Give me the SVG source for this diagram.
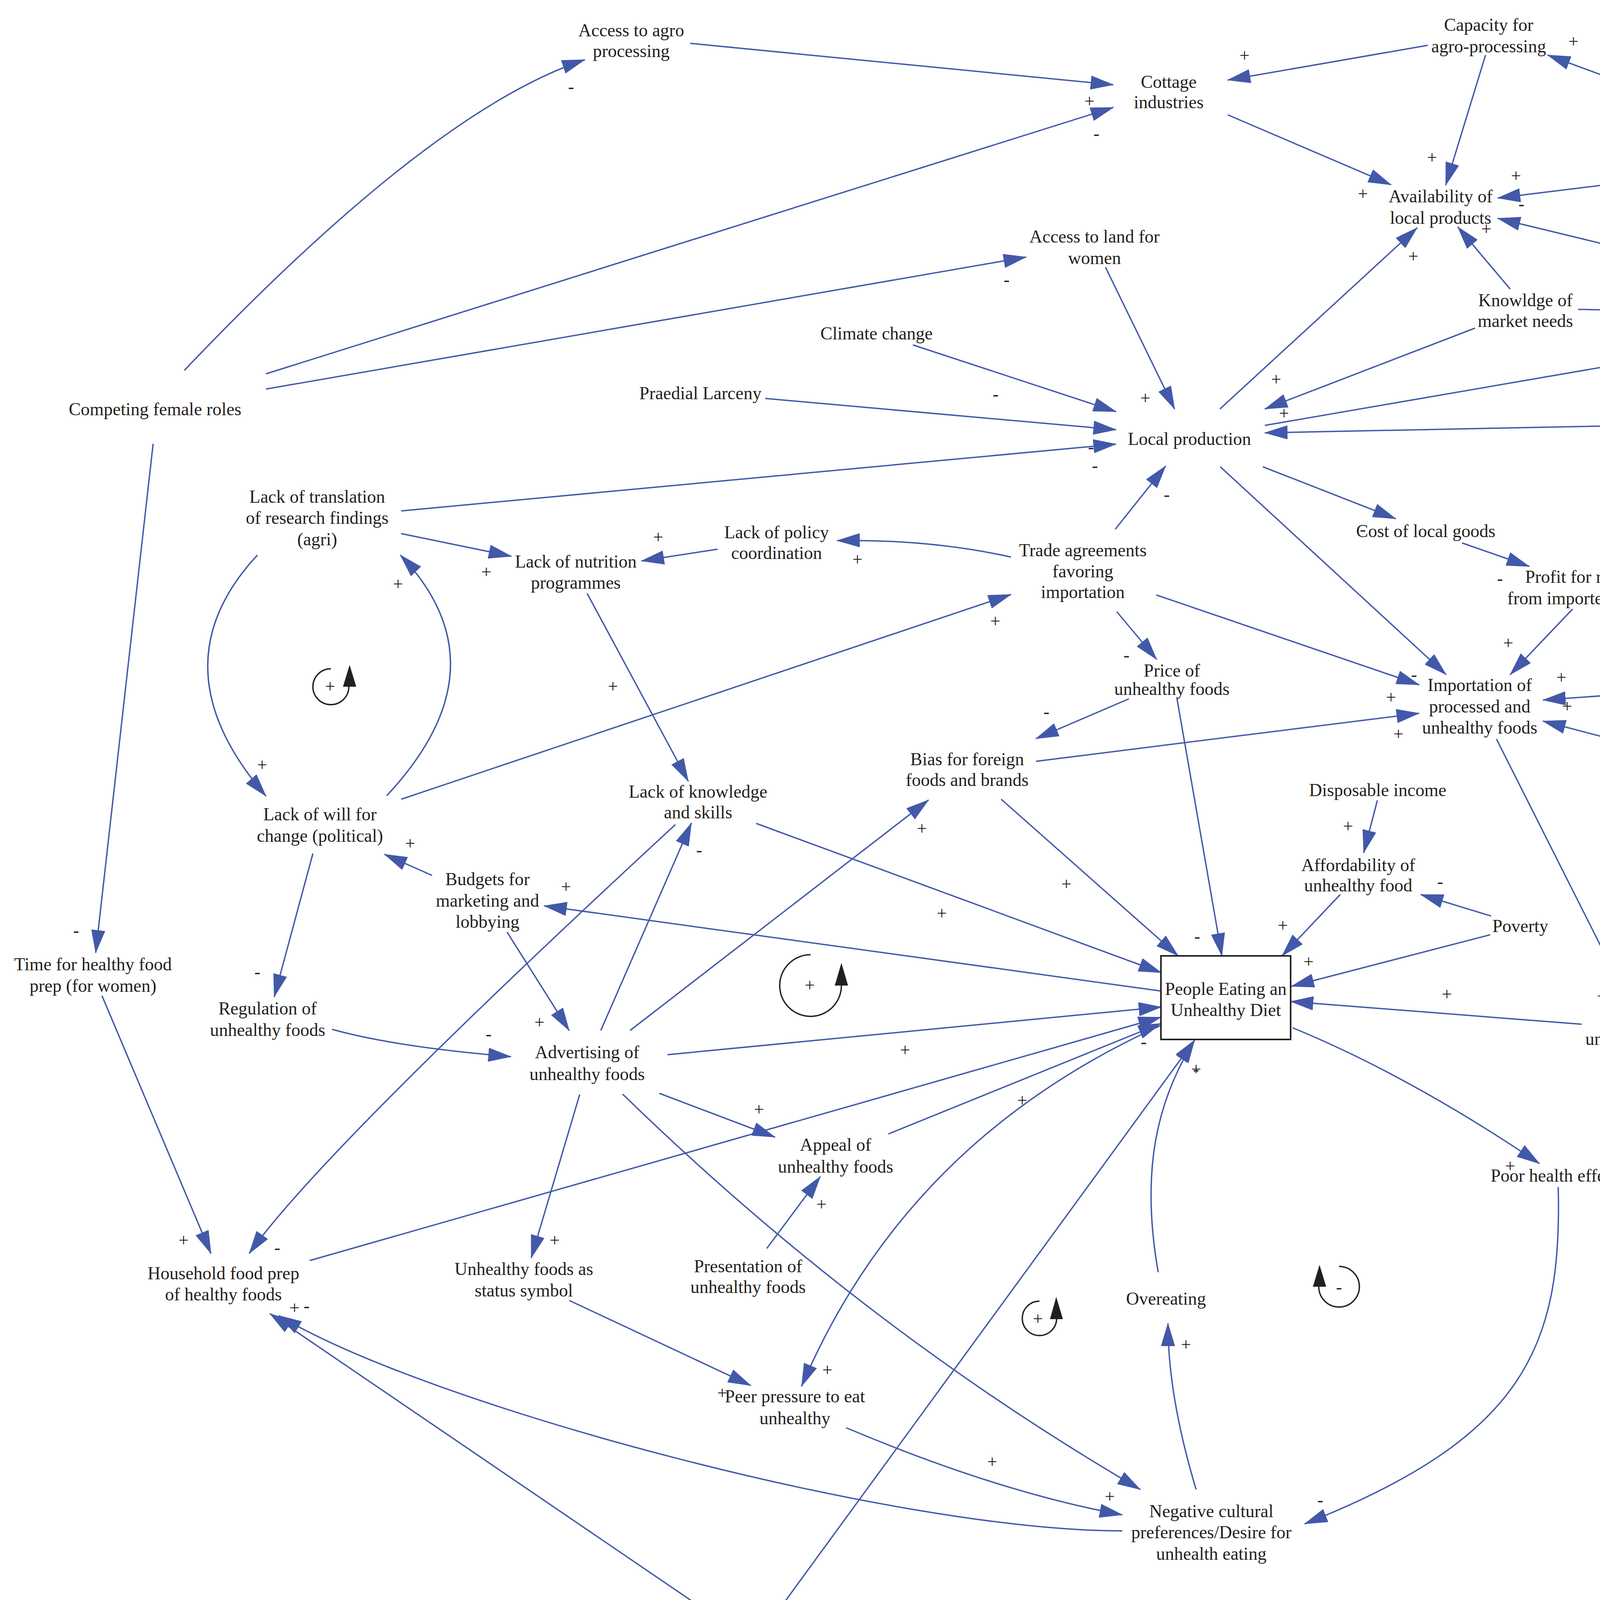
<svg xmlns="http://www.w3.org/2000/svg" width="5457" height="4353" viewBox="0 0 5457 4353">
<style>
.t{font-family:"Liberation Serif","Times New Roman",serif;font-size:46px;fill:#231f20;text-anchor:middle}
.s{font-family:"Liberation Serif","Times New Roman",serif;font-size:46px;fill:#231f20;text-anchor:middle}
.e{fill:none;stroke:#4259a9;stroke-width:3.5;marker-end:url(#ah)}
.n{fill:none;stroke:#4259a9;stroke-width:3.5}
.lp{fill:none;stroke:#231f20;stroke-width:3.5}
.la{fill:#231f20}
</style>
<defs>
<marker id="ah" viewBox="0 0 60 36" refX="58" refY="18" markerWidth="60" markerHeight="36" markerUnits="userSpaceOnUse" orient="auto"><path d="M0,0 L60,18 L0,36 z" fill="#4259a9"/></marker>
<clipPath id="bottomclip"><rect x="0" y="0" width="5457" height="4292"/></clipPath>
</defs>
<rect width="5457" height="4353" fill="#ffffff"/>
<g id="connectors">
<path class="e" d="M472,948 Q1106,282 1497,153"/>
<path class="e" d="M681,957 L2850,275"/>
<path class="e" d="M681,996 L2627,658"/>
<path class="e" d="M392,1136 L245,2439"/>
<path class="e" d="M1767,111 L2850,217"/>
<path class="e" d="M3655,116 L3143,205"/>
<path class="e" d="M3143,294 L3561,473"/>
<path class="e" d="M3803,141 L3701,474"/>
<path class="e" d="M4591,373 L3962,141"/>
<path class="e" d="M4508,424 L3834,507"/>
<path class="e" d="M4684,435 L4815,705"/>
<path class="e" d="M4656,758 L3834,559"/>
<path class="e" d="M3866,740 L3732,581"/>
<path class="e" d="M4040,792 L4658,803"/>
<path class="e" d="M3776,840 L3238,1047"/>
<path class="e" d="M3238,1089 L4658,844"/>
<path class="e" d="M4290,1087 L3238,1108"/>
<path class="e" d="M4726,1385 L4537,1137"/>
<path class="e" d="M4888,2037 L4871,915"/>
<g clip-path="url(#bottomclip)"><path class="n" d="M4949,915 A2274,2274 0 0 1 4183,4290 L4200,4330"/><path class="n" d="M2070,4287 L2110,4290"/></g>
<path class="e" d="M2830,684 L3007,1047"/>
<path class="e" d="M2337,883 L2857,1054"/>
<path class="e" d="M1959,1020 L2857,1100"/>
<path class="e" d="M1027,1308 L2857,1137"/>
<path class="e" d="M2855,1355 L2984,1193"/>
<path class="e" d="M2588,1426 Q2380,1380 2143,1384"/>
<path class="e" d="M1837,1406 L1642,1436"/>
<path class="e" d="M1027,1366 L1309,1424"/>
<path class="e" d="M659,1421 Q394,1706 681,2038"/>
<path class="e" d="M990,2037 Q1298,1707 1025,1421"/>
<path class="e" d="M1027,2046 L2588,1522"/>
<path class="e" d="M1503,1519 L1762,2000"/>
<path class="e" d="M801,2185 L702,2552"/>
<path class="e" d="M1106,2241 L984,2187"/>
<path class="e" d="M1298,2386 L1457,2638"/>
<path class="e" d="M2972,2537 L1393,2319"/>
<path class="e" d="M850,2635 Q1010,2680 1308,2705"/>
<path class="e" d="M1538,2638 L1770,2107"/>
<path class="e" d="M1729,2111 Q820,2950 638,3209"/>
<path class="e" d="M1613,2638 L2377,2048"/>
<path class="e" d="M1709,2700 L2973,2578"/>
<path class="e" d="M1688,2799 L1984,2911"/>
<path class="e" d="M1484,2802 L1360,3220"/>
<path class="e" d="M1594,2801 Q2210,3400 2919,3813"/>
<path class="e" d="M1963,3196 L2100,3012"/>
<path class="e" d="M2972,2625 Q2320,2920 2052,3549"/>
<path class="e" d="M793,3227 L2972,2604"/>
<path class="e" d="M2274,2903 L2972,2620"/>
<path class="e" d="M3013,1788 L3128,2447"/>
<path class="e" d="M2563,2046 L3016,2447"/>
<path class="e" d="M1936,2108 L2973,2490"/>
<path class="e" d="M3431,2290 L3282,2447"/>
<path class="e" d="M3815,2393 L3306,2525"/>
<path class="e" d="M3817,2345 L3637,2290"/>
<path class="e" d="M3526,2049 L3491,2183"/>
<path class="e" d="M4049,2622 L3304,2564"/>
<path class="e" d="M3309,2631 Q3610,2755 3941,2979"/>
<path class="e" d="M3831,1892 L4177,2579"/>
<path class="e" d="M4821,2551 L4368,2609"/>
<path class="e" d="M4699,3146 L4260,2686"/>
<path class="e" d="M4894,2150 L4940,2479"/>
<path class="e" d="M4687,2040 L3950,1846"/>
<path class="e" d="M4371,1762 L3950,1792"/>
<path class="e" d="M4026,1559 L3866,1727"/>
<path class="e" d="M3743,1390 L3915,1450"/>
<path class="e" d="M3233,1195 L3573,1328"/>
<path class="e" d="M3124,1195 L3702,1727"/>
<path class="e" d="M2960,1523 L3633,1753"/>
<path class="e" d="M2652,1949 L3633,1826"/>
<path class="e" d="M2859,1566 L2961,1688"/>
<path class="e" d="M2890,1789 L2652,1891"/>
<path class="e" d="M3123,1047 L3628,583"/>
<path class="e" d="M1457,3329 L1922,3547"/>
<path class="e" d="M2166,3655 Q2560,3821 2873,3878"/>
<path class="e" d="M2873,3919 C2300,3920 1100,3600 714,3368"/>
<path class="e" d="M1832,4140 L691,3363"/>
<path class="e" d="M1986,4132 L3058,2663"/>
<path class="e" d="M2965,3257 C2920,3000 2960,2820 3058,2663"/>
<path class="e" d="M3062,3813 C3010,3640 2990,3500 2990,3388"/>
<path class="e" d="M3989,3039 C4000,3450 3900,3680 3340,3901"/>
<path class="e" d="M261,2549 L540,3209"/>
</g>
<g id="polarities">
<text class="s" x="1462" y="237">-</text>
<text class="s" x="2807" y="357">-</text>
<text class="s" x="2577" y="731">-</text>
<text class="s" x="195" y="2397">-</text>
<text class="s" x="2789" y="274">+</text>
<text class="s" x="3186" y="157">+</text>
<text class="s" x="3489" y="511">+</text>
<text class="s" x="3666" y="418">+</text>
<text class="s" x="4028" y="121">+</text>
<text class="s" x="3881" y="465">+</text>
<text class="s" x="4740" y="692">-</text>
<text class="s" x="3895" y="537">-</text>
<text class="s" x="3805" y="601">+</text>
<text class="s" x="4598" y="868">-</text>
<text class="s" x="3267" y="986">+</text>
<text class="s" x="4608" y="918">+</text>
<text class="s" x="3287" y="1073">+</text>
<text class="s" x="4610" y="1163">+</text>
<text class="s" x="4920" y="980">+</text>
<text class="s" x="2139" y="4280">-</text>
<text class="s" x="2932" y="1034">+</text>
<text class="s" x="2549" y="1024">-</text>
<text class="s" x="2803" y="1207">-</text>
<text class="s" x="2793" y="1159">-</text>
<text class="s" x="2987" y="1281">-</text>
<text class="s" x="2195" y="1447">+</text>
<text class="s" x="1685" y="1390">+</text>
<text class="s" x="1245" y="1479">+</text>
<text class="s" x="671" y="1973">+</text>
<text class="s" x="1019" y="1510">+</text>
<text class="s" x="2548" y="1605">+</text>
<text class="s" x="1569" y="1772">+</text>
<text class="s" x="659" y="2503">-</text>
<text class="s" x="1050" y="2174">+</text>
<text class="s" x="1381" y="2632">+</text>
<text class="s" x="1449" y="2285">+</text>
<text class="s" x="1251" y="2662">-</text>
<text class="s" x="1790" y="2191">-</text>
<text class="s" x="710" y="3209">-</text>
<text class="s" x="2360" y="2136">+</text>
<text class="s" x="2317" y="2703">+</text>
<text class="s" x="1943" y="2855">+</text>
<text class="s" x="1420" y="3190">+</text>
<text class="s" x="2841" y="3846">+</text>
<text class="s" x="2103" y="3098">+</text>
<text class="s" x="2118" y="3522">+</text>
<text class="s" x="2928" y="2682">-</text>
<text class="s" x="2617" y="2832">+</text>
<text class="s" x="3065" y="2412">-</text>
<text class="s" x="2730" y="2278">+</text>
<text class="s" x="2411" y="2353">+</text>
<text class="s" x="3284" y="2384">+</text>
<text class="s" x="3350" y="2477">+</text>
<text class="s" x="3687" y="2272">-</text>
<text class="s" x="3451" y="2130">+</text>
<text class="s" x="3704" y="2560">+</text>
<text class="s" x="3866" y="3000">+</text>
<text class="s" x="4101" y="2565">+</text>
<text class="s" x="4415" y="2565">+</text>
<text class="s" x="4331" y="2706">-</text>
<text class="s" x="4881" y="2442">+</text>
<text class="s" x="4012" y="1823">+</text>
<text class="s" x="3997" y="1749">+</text>
<text class="s" x="3861" y="1661">+</text>
<text class="s" x="3840" y="1496">-</text>
<text class="s" x="3489" y="1370">-</text>
<text class="s" x="3620" y="1742">-</text>
<text class="s" x="3561" y="1800">+</text>
<text class="s" x="3580" y="1894">+</text>
<text class="s" x="2884" y="1692">-</text>
<text class="s" x="2679" y="1837">-</text>
<text class="s" x="3618" y="671">+</text>
<text class="s" x="1849" y="3581">+</text>
<text class="s" x="2540" y="3757">+</text>
<text class="s" x="785" y="3358">-</text>
<text class="s" x="754" y="3363">+</text>
<text class="s" x="3062" y="2752">-</text>
<text class="s" x="3062" y="2752">+</text>
<text class="s" x="3036" y="3457">+</text>
<text class="s" x="3380" y="3855">-</text>
<text class="s" x="470" y="3190">+</text>
</g>
<g id="loops">
<path class="lp" d="M847,1712 A46,46 0 1 0 893,1758"/>
<polygon class="la" points="878,1758 912,1758 895,1702"/>
<text class="s" x="845" y="1772">+</text>
<path class="lp" d="M2075,2444 A79,79 0 1 0 2154,2523"/>
<polygon class="la" points="2137,2523 2171,2523 2154,2465"/>
<text class="s" x="2073" y="2537">+</text>
<path class="lp" d="M2661,3331 A44,44 0 1 0 2705,3375"/>
<polygon class="la" points="2688,3377 2721,3377 2704,3320"/>
<text class="s" x="2657" y="3391">+</text>
<path class="lp" d="M3428,3242 A52,52 0 1 1 3376,3294"/>
<polygon class="la" points="3361,3294 3395,3294 3378,3238"/>
<text class="s" x="3428" y="3310">-</text>
</g>
<g id="n_agro"><text class="t"><tspan x="1616" y="93">Access to agro</tspan><tspan x="1616" y="146">processing</tspan></text></g>
<g id="n_cottage"><text class="t"><tspan x="2992" y="225">Cottage</tspan><tspan x="2992" y="277">industries</tspan></text></g>
<g id="n_capacity"><text class="t"><tspan x="3811" y="79">Capacity for</tspan><tspan x="3811" y="134">agro-processing</tspan></text></g>
<g id="n_avail"><text class="t"><tspan x="3688" y="518">Availability of</tspan><tspan x="3688" y="573">local products</tspan></text></g>
<g id="n_storage"><text class="t" x="4669" y="421">Storage capacity</text></g>
<g id="n_land"><text class="t"><tspan x="2802" y="621">Access to land for</tspan><tspan x="2802" y="676">women</tspan></text></g>
<g id="n_market"><text class="t"><tspan x="3905" y="784">Knowldge of</tspan><tspan x="3905" y="837">market needs</tspan></text></g>
<g id="n_waste"><text class="t" x="4867" y="826">Food waste</text></g>
<g id="n_climate"><text class="t" x="2244" y="869">Climate change</text></g>
<g id="n_competing"><text class="t" x="397" y="1063">Competing female roles</text></g>
<g id="n_praedial"><text class="t" x="1793" y="1022">Praedial Larceny</text></g>
<g id="n_local"><text class="t" x="3045" y="1139">Local production</text></g>
<g id="n_conflocal"><text class="t"><tspan x="4494" y="1073">Confidence in safety</tspan><tspan x="4494" y="1126">of local products</tspan></text></g>
<g id="n_translation"><text class="t"><tspan x="812" y="1287">Lack of translation</tspan><tspan x="812" y="1341">of research findings</tspan><tspan x="812" y="1396">(agri)</tspan></text></g>
<g id="n_policy"><text class="t"><tspan x="1988" y="1378">Lack of policy</tspan><tspan x="1988" y="1431">coordination</tspan></text></g>
<g id="n_nutrition"><text class="t"><tspan x="1474" y="1453">Lack of nutrition</tspan><tspan x="1474" y="1507">programmes</tspan></text></g>
<g id="n_trade"><text class="t"><tspan x="2772" y="1424">Trade agreements</tspan><tspan x="2772" y="1478">favoring</tspan><tspan x="2772" y="1531">importation</tspan></text></g>
<g id="n_cost"><text class="t" x="3650" y="1375">Cost of local goods</text></g>
<g id="n_profit"><text class="t"><tspan x="4069" y="1492">Profit for retailers</tspan><tspan x="4069" y="1547">from imported vs local</tspan></text></g>
<g id="n_foodsafety"><text class="t"><tspan x="4763" y="1431">Food safety of</tspan><tspan x="4763" y="1485">agricultural products</tspan></text></g>
<g id="n_price"><text class="t"><tspan x="3000" y="1732">Price of</tspan><tspan x="3000" y="1779">unhealthy foods</tspan></text></g>
<g id="n_importation"><text class="t"><tspan x="3788" y="1769">Importation of</tspan><tspan x="3788" y="1824">processed and</tspan><tspan x="3788" y="1878">unhealthy foods</tspan></text></g>
<g id="n_confimp"><text class="t"><tspan x="4571" y="1737">Confidence in safety</tspan><tspan x="4571" y="1790">of imported foods</tspan></text></g>
<g id="n_bias"><text class="t"><tspan x="2476" y="1959">Bias for foreign</tspan><tspan x="2476" y="2012">foods and brands</tspan></text></g>
<g id="n_knowledge"><text class="t"><tspan x="1787" y="2042">Lack of knowledge</tspan><tspan x="1787" y="2095">and skills</tspan></text></g>
<g id="n_disposable"><text class="t" x="3527" y="2038">Disposable income</text></g>
<g id="n_will"><text class="t"><tspan x="819" y="2100">Lack of will for</tspan><tspan x="819" y="2155">change (political)</tspan></text></g>
<g id="n_tourism"><text class="t"><tspan x="4888" y="2083">Tourism preferences</tspan><tspan x="4888" y="2139">for imported foods</tspan></text></g>
<g id="n_afford"><text class="t"><tspan x="3477" y="2230">Affordability of</tspan><tspan x="3477" y="2282">unhealthy food</tspan></text></g>
<g id="n_budgets"><text class="t"><tspan x="1248" y="2266">Budgets for</tspan><tspan x="1248" y="2321">marketing and</tspan><tspan x="1248" y="2375">lobbying</tspan></text></g>
<g id="n_poverty"><text class="t" x="3892" y="2386">Poverty</text></g>
<g id="n_people"><rect x="2972" y="2447" width="332" height="214" fill="#ffffff" stroke="#231f20" stroke-width="4"/><text class="t"><tspan x="3138" y="2547">People Eating an</tspan><tspan x="3138" y="2601">Unhealthy Diet</tspan></text></g>
<g id="n_time"><text class="t"><tspan x="238" y="2484">Time for healthy food</tspan><tspan x="238" y="2539">prep (for women)</tspan></text></g>
<g id="n_spill"><text class="t" x="4944" y="2550">Spill over</text></g>
<g id="n_regulation"><text class="t"><tspan x="685" y="2597">Regulation of</tspan><tspan x="685" y="2652">unhealthy foods</tspan></text></g>
<g id="n_access"><text class="t"><tspan x="4206" y="2620">Access to</tspan><tspan x="4206" y="2675">unhealthy foods</tspan></text></g>
<g id="n_advert"><text class="t"><tspan x="1503" y="2709">Advertising of</tspan><tspan x="1503" y="2765">unhealthy foods</tspan></text></g>
<g id="n_appeal"><text class="t"><tspan x="2139" y="2946">Appeal of</tspan><tspan x="2139" y="3002">unhealthy foods</tspan></text></g>
<g id="n_poor"><text class="t" x="3988" y="3025">Poor health effects</text></g>
<g id="n_distance"><text class="t"><tspan x="4772" y="3190">Distance to</tspan><tspan x="4772" y="3245">unhealthy food</tspan><tspan x="4772" y="3298">outlets</tspan></text></g>
<g id="n_presentation"><text class="t"><tspan x="1915" y="3257">Presentation of</tspan><tspan x="1915" y="3310">unhealthy foods</tspan></text></g>
<g id="n_status"><text class="t"><tspan x="1341" y="3264">Unhealthy foods as</tspan><tspan x="1341" y="3319">status symbol</tspan></text></g>
<g id="n_household"><text class="t"><tspan x="572" y="3275">Household food prep</tspan><tspan x="572" y="3329">of healthy foods</tspan></text></g>
<g id="n_overeating"><text class="t" x="2985" y="3340">Overeating</text></g>
<g id="n_peer"><text class="t"><tspan x="2035" y="3590">Peer pressure to eat</tspan><tspan x="2035" y="3646">unhealthy</tspan></text></g>
<g id="n_negative"><text class="t"><tspan x="3101" y="3884">Negative cultural</tspan><tspan x="3101" y="3938">preferences/Desire for</tspan><tspan x="3101" y="3993">unhealth eating</tspan></text></g>
<g id="n_accesshealthy"><text class="t"><tspan x="1932" y="4199">Access to</tspan><tspan x="1932" y="4253">healthy foods</tspan></text></g>
</svg>
